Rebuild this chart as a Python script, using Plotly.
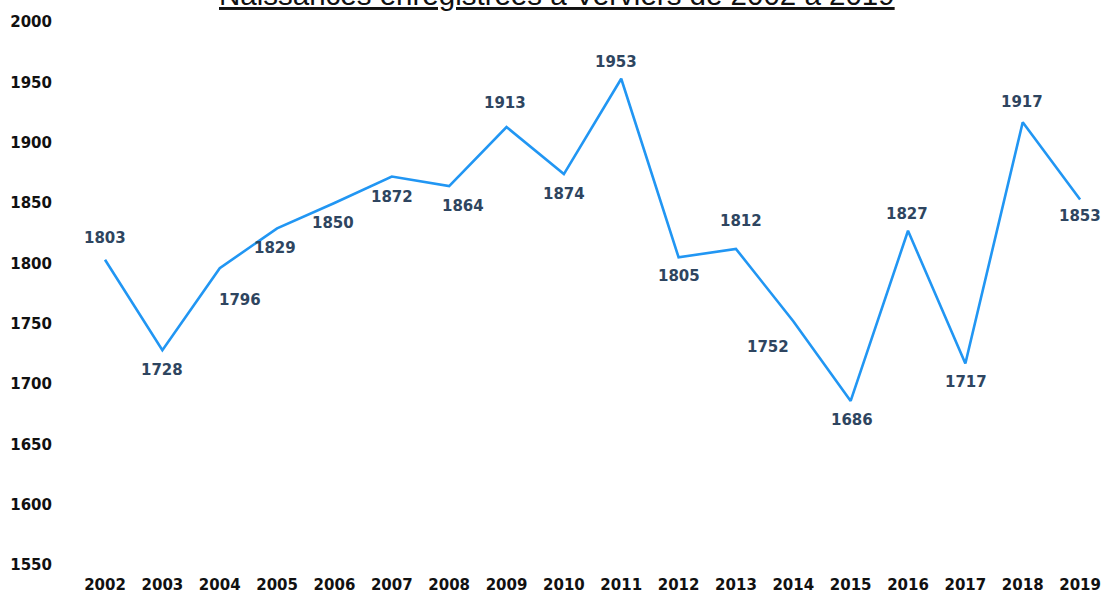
import plotly.graph_objects as go

years = list(range(2002, 2020))
births = [1803, 1728, 1796, 1829, 1850, 1872, 1864, 1913, 1874, 1953,
          1805, 1812, 1752, 1686, 1827, 1717, 1917, 1853]
y_ticks = [1550, 1600, 1650, 1700, 1750, 1800, 1850, 1900, 1950, 2000]
title_text = "Naissances enregistrées à Verviers de 2002 à 2019"

# label offsets (pixels) relative to each point
label_dx = [0, 0, 20, -2, -1, 0, 14, -2, 0, -5, 0, 5, -25, 1, -1, 1, -1, 0]
label_dy = [22, -20, -32, -20, -20, -21, -20, 24, -20, 17, -19, 28, -26, -19, 17, -19, 20, -17]

fig = go.Figure()
fig.add_trace(go.Scatter(
    x=years, y=births, mode="lines",
    line=dict(color="#2196F3", width=2.6),
    hoverinfo="x+y",
))

for x, y, dx, dy in zip(years, births, label_dx, label_dy):
    fig.add_annotation(
        x=x, y=y, text=str(y), showarrow=False,
        xshift=dx, yshift=dy,
        font=dict(family="DejaVu Sans", size=15, color="#2E4560", weight="bold"),
    )

fig.add_annotation(
    xref="paper", yref="paper", x=0.4805, y=1, yanchor="middle",
    yshift=16, text="<u>" + title_text + "</u>", showarrow=False,
    font=dict(family="Liberation Sans", size=29.5, color="#111111"),
)

fig.update_layout(
    width=1103, height=593,
    margin=dict(l=60, r=8, t=10, b=22),
    paper_bgcolor="white", plot_bgcolor="white",
    showlegend=False,
    xaxis=dict(
        range=[2001.215, 2019.26], tickmode="array", tickvals=years,
        ticktext=[str(v) for v in years], showgrid=False, zeroline=False,
        showline=False, ticks="", automargin=False, ticklabelstandoff=3,
        tickfont=dict(family="DejaVu Sans", size=15, color="#111111", weight="bold"),
    ),
    yaxis=dict(
        range=[1545, 2010], tickmode="array", tickvals=y_ticks,
        showgrid=False, zeroline=False, showline=False, ticks="",
        automargin=False, ticklabelstandoff=7,
        tickfont=dict(family="DejaVu Sans", size=15, color="#111111", weight="bold"),
    ),
)

fig.write_html(
    "out.html",
    config={"displayModeBar": False},
    post_script="document.body.style.margin='0';document.body.style.overflow='hidden';",
)
